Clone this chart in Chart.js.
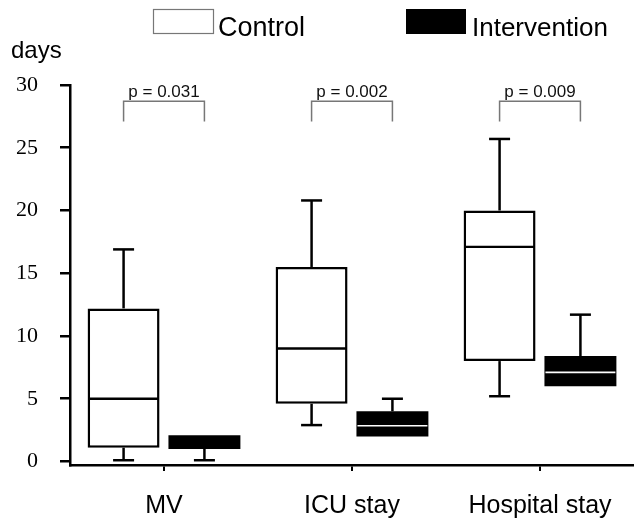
<!DOCTYPE html>
<html>
<head>
<meta charset="utf-8">
<script src="https://cdn.jsdelivr.net/npm/chart.js@4/dist/chart.umd.min.js"></script>
<style>
  html, body { margin: 0; padding: 0; background: #fff; overflow: hidden; }
  #wrap { width: 634px; height: 519px; position: relative; }
</style>
</head>
<body>
<div id="wrap"><canvas id="box-chart"></canvas></div>
<script>
// カテゴリ
const categories = ['MV', 'ICU stay', 'Hospital stay'];

// Control 群（min, Q1, 中央値, Q3, max）
const controlMin = [0.1, 2.9, 5.2];
const controlQ1 = [1.1, 4.6, 8.0];
const controlMedian = [5.0, 9.0, 17.1];
const controlQ3 = [12.2, 15.5, 20.0];
const controlMax = [16.9, 20.8, 25.7];

// Intervention 群
const interventionMin = [0.1, 2.0, 6.0];
const interventionQ1 = [1.0, 2.0, 6.0];
const interventionMedian = [1.0, 2.85, 7.1];
const interventionQ3 = [2.1, 4.0, 8.4];
const interventionMax = [2.1, 5.0, 11.7];

// p値とブラケット
const pLabels = ['p = 0.031', 'p = 0.002', 'p = 0.009'];
const bracketTop = [28.7, 28.7, 28.7];
const bracketBottom = [27.1, 27.1, 27.1];

const yTicks = [0, 5, 10, 15, 20, 25, 30];

const groups = [
  { min: controlMin, median: controlMedian, max: controlMax, q1: controlQ1, q3: controlQ3, medianColor: '#000', medianWidth: 2.4 },
  { min: interventionMin, median: interventionMedian, max: interventionMax, q1: interventionQ1, q3: interventionQ3, medianColor: '#fff', medianWidth: 1.6 }
];

// ひげ（箱の下に描く）
const whiskerPlugin = {
  id: 'whiskers',
  beforeDatasetsDraw(chart) {
    const ctx = chart.ctx;
    const y = chart.scales.y;
    ctx.save();
    ctx.strokeStyle = '#000';
    ctx.lineWidth = 2.5;
    groups.forEach((g, di) => {
      chart.getDatasetMeta(di).data.forEach((bar, i) => {
        const cx = bar.x;
        const pairs = [[g.q3[i], g.max[i]], [g.q1[i], g.min[i]]];
        pairs.forEach(([from, to]) => {
          if (from === to) return;
          ctx.beginPath();
          ctx.moveTo(cx, y.getPixelForValue(from));
          ctx.lineTo(cx, y.getPixelForValue(to));
          ctx.stroke();
          ctx.beginPath();
          ctx.moveTo(cx - 10.5, y.getPixelForValue(to));
          ctx.lineTo(cx + 10.5, y.getPixelForValue(to));
          ctx.stroke();
        });
      });
    });
    ctx.restore();
  },
  afterDatasetsDraw(chart) {
    const ctx = chart.ctx;
    const y = chart.scales.y;
    ctx.save();
    // 中央値
    groups.forEach((g, di) => {
      chart.getDatasetMeta(di).data.forEach((bar, i) => {
        const m = g.median[i];
        if (m <= g.q1[i] || m >= g.q3[i]) return;
        const py = y.getPixelForValue(m);
        ctx.strokeStyle = g.medianColor;
        ctx.lineWidth = g.medianWidth;
        ctx.beginPath();
        ctx.moveTo(bar.x - bar.width / 2 + 1, py);
        ctx.lineTo(bar.x + bar.width / 2 - 1, py);
        ctx.stroke();
      });
    });
    // p値ブラケット
    const c = chart.getDatasetMeta(0).data;
    const t = chart.getDatasetMeta(1).data;
    ctx.strokeStyle = '#777';
    ctx.lineWidth = 1.5;
    ctx.fillStyle = '#111';
    ctx.font = '17px "Liberation Sans", Arial, sans-serif';
    ctx.textAlign = 'center';
    ctx.textBaseline = 'alphabetic';
    pLabels.forEach((label, i) => {
      const x1 = c[i].x, x2 = t[i].x;
      const yt = y.getPixelForValue(bracketTop[i]);
      const yb = y.getPixelForValue(bracketBottom[i]);
      ctx.beginPath();
      ctx.moveTo(x1, yb);
      ctx.lineTo(x1, yt);
      ctx.lineTo(x2, yt);
      ctx.lineTo(x2, yb);
      ctx.stroke();
      ctx.fillText(label, (x1 + x2) / 2, yt - 4);
    });
    ctx.restore();

    // 凡例と単位
    ctx.save();
    ctx.fillStyle = '#fff';
    ctx.fillRect(153, 9, 61, 25);
    ctx.strokeStyle = '#777';
    ctx.lineWidth = 1.2;
    ctx.strokeRect(153.5, 9.5, 60, 24);
    ctx.fillStyle = '#000';
    ctx.fillRect(406, 9, 60, 25);
    ctx.textAlign = 'left';
    ctx.textBaseline = 'alphabetic';
    ctx.font = '27px "Liberation Sans", Arial, sans-serif';
    ctx.fillText('Control', 218, 36);
    ctx.font = '26px "Liberation Sans", Arial, sans-serif';
    ctx.fillText('Intervention', 472, 36);
    ctx.font = '24px "Liberation Sans", Arial, sans-serif';
    ctx.fillText('days', 11, 58);
    ctx.restore();
  }
};

const ctx = document.getElementById('box-chart').getContext('2d');
const boxChart = new Chart(ctx, {
  type: 'bar',
  data: {
    labels: categories,
    datasets: [{
      label: 'Control',
      data: controlQ1.map((v, i) => [v, controlQ3[i]]),
      backgroundColor: '#fff',
      borderColor: '#000',
      borderWidth: 2.5,
      borderSkipped: false,
      categoryPercentage: 0.86,
      barPercentage: 0.89
    }, {
      label: 'Intervention',
      data: interventionQ1.map((v, i) => [v, interventionQ3[i]]),
      backgroundColor: '#000',
      borderColor: '#000',
      borderWidth: 0,
      borderSkipped: false,
      categoryPercentage: 0.86,
      barPercentage: 0.89
    }]
  },
  options: {
    responsive: true,
    maintainAspectRatio: false,
    animation: false,
    layout: { padding: { top: 85, left: 0, right: 0, bottom: 0 } },
    plugins: {
      legend: { display: false },
      tooltip: { enabled: false }
    },
    scales: {
      x: {
        grid: { display: true, drawOnChartArea: false, offset: false, tickLength: 6, color: '#000', lineWidth: 2 },
        border: { display: true, color: '#000', width: 2.5 },
        ticks: { color: '#000', padding: 20, font: { family: '"Liberation Sans", Arial, sans-serif', size: 25 } },
        afterFit(scale) { scale.height = 54; }
      },
      y: {
        min: -0.28,
        max: 30,
        afterBuildTicks(scale) { scale.ticks = yTicks.map(v => ({ value: v })); },
        grid: { display: true, drawOnChartArea: false, tickLength: 10, color: '#000', lineWidth: 2.5 },
        border: { display: true, color: '#000', width: 2.5 },
        ticks: { color: '#000', padding: 22, font: { family: '"Liberation Serif", "Times New Roman", serif', size: 22 } },
        afterFit(scale) { scale.width = 70; }
      }
    }
  },
  plugins: [whiskerPlugin]
});
</script>
</body>
</html>
